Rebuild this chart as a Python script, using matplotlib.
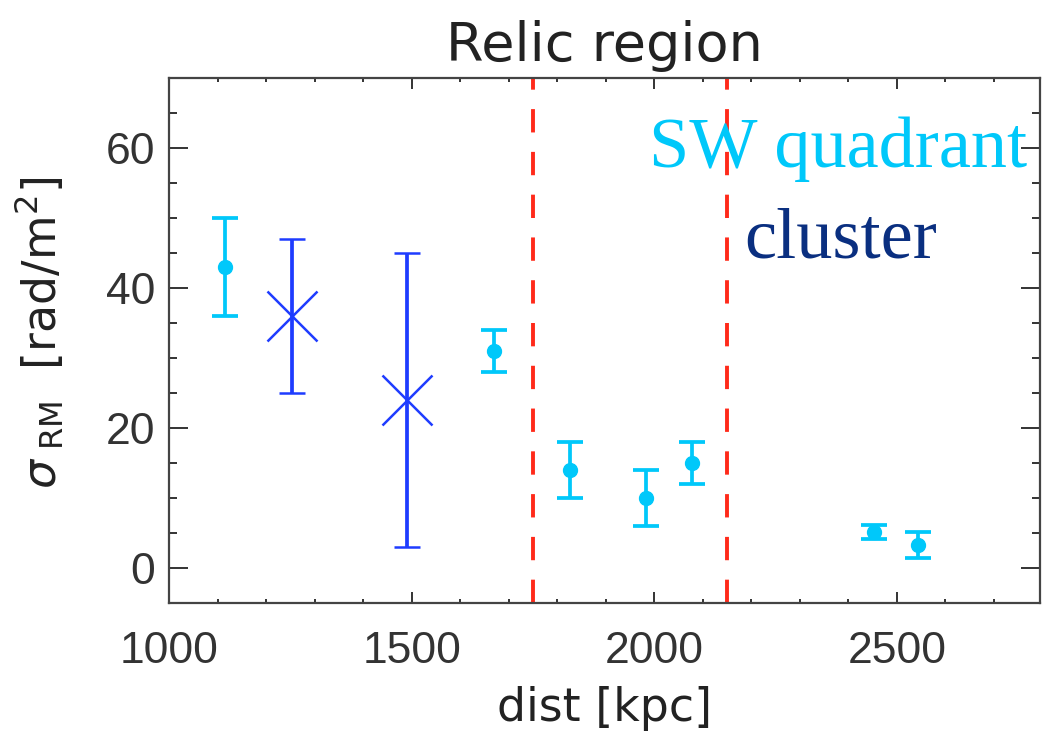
import numpy as np
import matplotlib
matplotlib.use("Agg")
import matplotlib.pyplot as plt
from matplotlib.ticker import MultipleLocator

# SW quadrant points (cyan dots)
sw_dist = [1115, 1669, 1826, 1984, 2078, 2452, 2543]
sw_sigma = [43.0, 31.0, 14.0, 10.0, 15.0, 5.2, 3.3]
sw_err = [7.0, 3.0, 4.0, 4.0, 3.0, 1.0, 1.8]

# cluster points (blue crosses)
cl_dist = [1254, 1490]
cl_sigma = [36.0, 24.0]
cl_err = [11.0, 21.0]

# relic boundaries
relic_edges = [1750, 2150]

cyan = "#00C8FA"
blue = "#1E3CFF"
navy = "#0A2F80"
red = "#FF2A1A"

plt.rcParams["font.family"] = ["Liberation Sans", "DejaVu Sans"]
plt.rcParams["mathtext.fontset"] = "dejavusans"

fig = plt.figure(figsize=(10.45, 7.38), dpi=100)
ax = fig.add_axes([0.1617, 0.1829, 0.9952 - 0.1617, 0.8943 - 0.1829])

for x in relic_edges:
    ax.axvline(x, color=red, lw=2.8, dashes=(6, 5), zorder=1)

ax.errorbar(sw_dist, sw_sigma, yerr=sw_err, fmt="o", color=cyan, ms=10,
            elinewidth=2.7, capsize=9.5, capthick=2.7, zorder=3)
ax.errorbar(cl_dist, cl_sigma, yerr=cl_err, fmt="x", color=blue, ms=36,
            mew=1.8, elinewidth=2.7, capsize=9.5, capthick=2.7, zorder=3)

ax.set_xlim(1000, 2795)
ax.set_ylim(-5, 70)
ax.xaxis.set_major_locator(MultipleLocator(500))
ax.xaxis.set_minor_locator(MultipleLocator(100))
ax.yaxis.set_major_locator(MultipleLocator(20))
ax.yaxis.set_minor_locator(MultipleLocator(5))

for s in ax.spines.values():
    s.set_linewidth(1.6)
    s.set_color("#444444")

ax.tick_params(axis="both", which="both", direction="in", top=True, right=True,
               colors="#333333", labelsize=32, width=1.4)
ax.tick_params(axis="x", which="major", length=8, pad=20)
ax.tick_params(axis="x", which="minor", length=3)
ax.tick_params(axis="y", which="major", length=14, pad=10)
ax.tick_params(axis="y", which="minor", length=6)

label_font = dict(fontsize=33, color="#222222", family="DejaVu Sans")
ax.set_title("Relic region", fontsize=39, color="#222222",
             family="DejaVu Sans", pad=12)
ax.set_xlabel("dist [kpc]", labelpad=10, **label_font)
ax.set_ylabel(r"$\sigma_{\ \mathrm{RM}}$  [rad/m$^2$]", **label_font)
ax.yaxis.set_label_coords(-0.118, 0.514)

serif = ["Liberation Serif", "DejaVu Serif"]
ax.text(0.768, 0.83, "SW quadrant", transform=ax.transAxes, ha="center",
        fontsize=52, color=cyan, family=serif)
ax.text(0.771, 0.659, "cluster", transform=ax.transAxes, ha="center",
        fontsize=52, color=navy, family=serif)

fig.savefig("out.png", dpi=100)
